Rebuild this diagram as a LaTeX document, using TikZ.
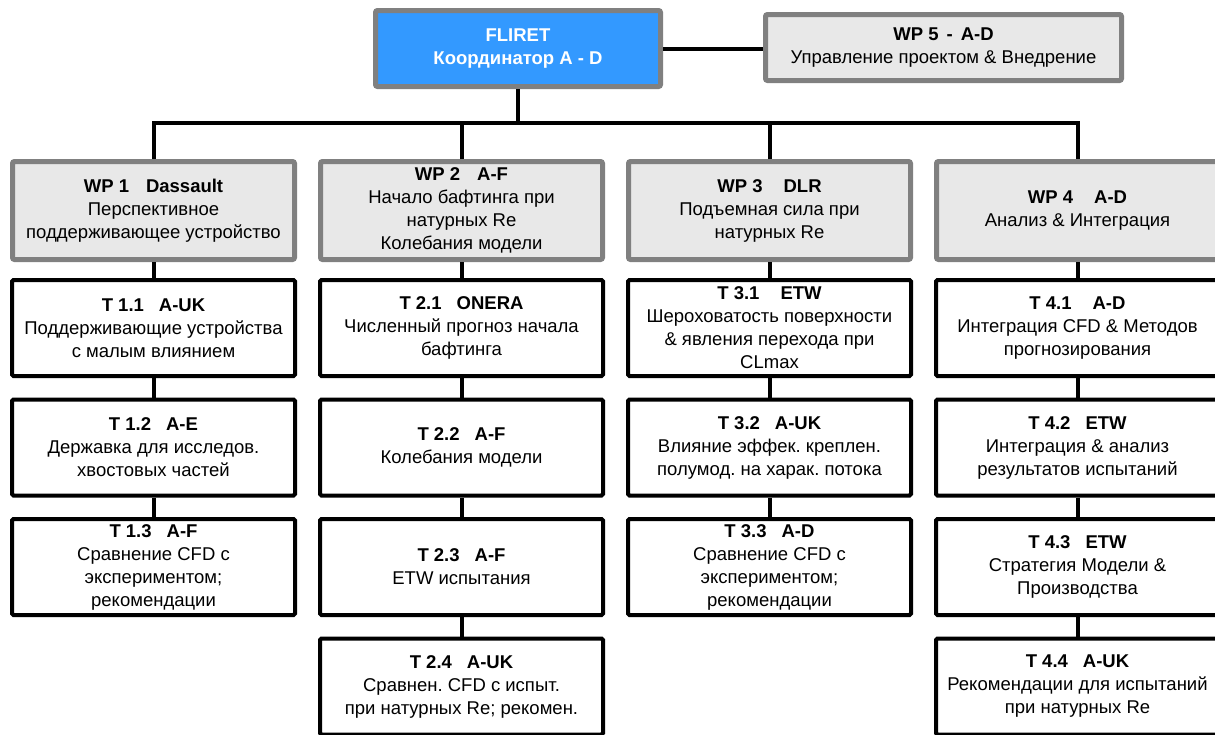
\documentclass[tikz,border=0pt]{standalone}
\usepackage{fontspec}
\setmainfont{Liberation Sans}
\usetikzlibrary{positioning}
\definecolor{coordc}{RGB}{51,153,255}
\colorlet{wpfillc}{black!9}
\colorlet{wplinec}{black!50}
\frenchspacing

\begin{document}
\begin{tikzpicture}[x=1pt,y=-1pt,
  every node/.style={align=center,inner sep=0pt,font=\fontsize{18.5}{23}\selectfont},
  topbox/.style={draw=wplinec,line width=5pt,rounded corners=2pt},
  wpbox/.style={topbox,fill=wpfillc,minimum width=282pt,minimum height=98pt},
  taskbox/.style={draw=black,line width=4pt,rounded corners=1.5pt,minimum width=283pt,minimum height=96pt},
  link/.style={line width=4pt}]
\useasboundingbox (0,0) rectangle (1215,734);
\clip (0,0) rectangle (1215,734);

\node[topbox,fill=coordc,text=white,minimum width=285pt,minimum height=76pt] (fliret) at (518,48.5)
  {\textbf{FLIRET}\\\textbf{Координатор A - D}};
\node[topbox,fill=wpfillc,minimum width=356pt,minimum height=66pt] (wp5) at (943.5,47.5)
  {\textbf{WP 5\hspace{8pt}-\hspace{8pt}A-D}\\Управление проектом \& Внедрение};

\node[wpbox] (wp1) at (153.5,210.5) {\textbf{WP 1\hspace{17pt}Dassault}\\Перспективное\\поддерживающее устройство};
\node[wpbox] (wp2) at (461.5,210.5) {\textbf{WP 2\hspace{17pt}A-F}\\Начало бафтинга при\\натурных Re\\Колебания модели};
\node[wpbox] (wp3) at (769.5,210.5) {\textbf{WP 3\hspace{21pt}DLR}\\Подъемная сила при\\натурных Re};
\node[wpbox] (wp4) at (1077.5,210.5) {\textbf{WP 4\hspace{21pt}A-D}\\Анализ \& Интеграция};

% work package 1
\node[taskbox] (t11) at (153.5,328) {\textbf{T 1.1\hspace{15pt}A-UK}\\Поддерживающие устройства\\с малым влиянием};
\node[taskbox] (t12) at (153.5,447.5) {\textbf{T 1.2\hspace{15pt}A-E}\\Державка для исследов.\\хвостовых частей};
\node[taskbox] (t13) at (153.5,567) {\textbf{T 1.3\hspace{15pt}A-F}\\Сравнение CFD с\\экспериментом;\\рекомендации};

% work package 2
\node[taskbox] (t21) at (461.5,328) {\textbf{T 2.1\hspace{15pt}ONERA}\\Численный прогноз начала\\бафтинга};
\node[taskbox] (t22) at (461.5,447.5) {\textbf{T 2.2\hspace{15pt}A-F}\\Колебания модели};
\node[taskbox] (t23) at (461.5,567) {\textbf{T 2.3\hspace{15pt}A-F}\\ETW испытания};
\node[taskbox] (t24) at (461.5,686.5) {\textbf{T 2.4\hspace{15pt}A-UK}\\Сравнен. CFD с испыт.\\при натурных Re; рекомен.};

% work package 3
\node[taskbox] (t31) at (769.5,328) {\textbf{T 3.1\hspace{21pt}ETW}\\Шероховатость поверхности\\\& явления перехода при\\CLmax};
\node[taskbox] (t32) at (769.5,447.5) {\textbf{T 3.2\hspace{15pt}A-UK}\\Влияние эффек. креплен.\\полумод. на харак. потока};
\node[taskbox] (t33) at (769.5,567) {\textbf{T 3.3\hspace{15pt}A-D}\\Сравнение CFD с\\экспериментом;\\рекомендации};

% work package 4
\node[taskbox] (t41) at (1077.5,328) {\textbf{T 4.1\hspace{21pt}A-D}\\Интеграция CFD \& Методов\\прогнозирования};
\node[taskbox] (t42) at (1077.5,447.5) {\textbf{T 4.2\hspace{15pt}ETW}\\Интеграция \& анализ\\результатов испытаний};
\node[taskbox] (t43) at (1077.5,567) {\textbf{T 4.3\hspace{15pt}ETW}\\Стратегия Модели \&\\Производства};
\node[taskbox] (t44) at (1077.5,686.5) {\textbf{T 4.4\hspace{15pt}A-UK}\\Рекомендации для испытаний\\при натурных Re};

\coordinate (bar) at (518,123);
\draw[link] (fliret.east) -- (fliret.east -| wp5.west);
\draw[link] (fliret.south) -- (bar);
\draw[link] (wp1.north) |- (bar) -| (wp4.north);
\draw[link] (wp2.north) -- (wp2.north |- bar);
\draw[link] (wp3.north) -- (wp3.north |- bar);

\draw[link] (wp1.south) -- (t11.north);
\draw[link] (t11.south) -- (t12.north);
\draw[link] (t12.south) -- (t13.north);
\draw[link] (wp2.south) -- (t21.north);
\draw[link] (t21.south) -- (t22.north);
\draw[link] (t22.south) -- (t23.north);
\draw[link] (t23.south) -- (t24.north);
\draw[link] (wp3.south) -- (t31.north);
\draw[link] (t31.south) -- (t32.north);
\draw[link] (t32.south) -- (t33.north);
\draw[link] (wp4.south) -- (t41.north);
\draw[link] (t41.south) -- (t42.north);
\draw[link] (t42.south) -- (t43.north);
\draw[link] (t43.south) -- (t44.north);
\end{tikzpicture}
\end{document}
